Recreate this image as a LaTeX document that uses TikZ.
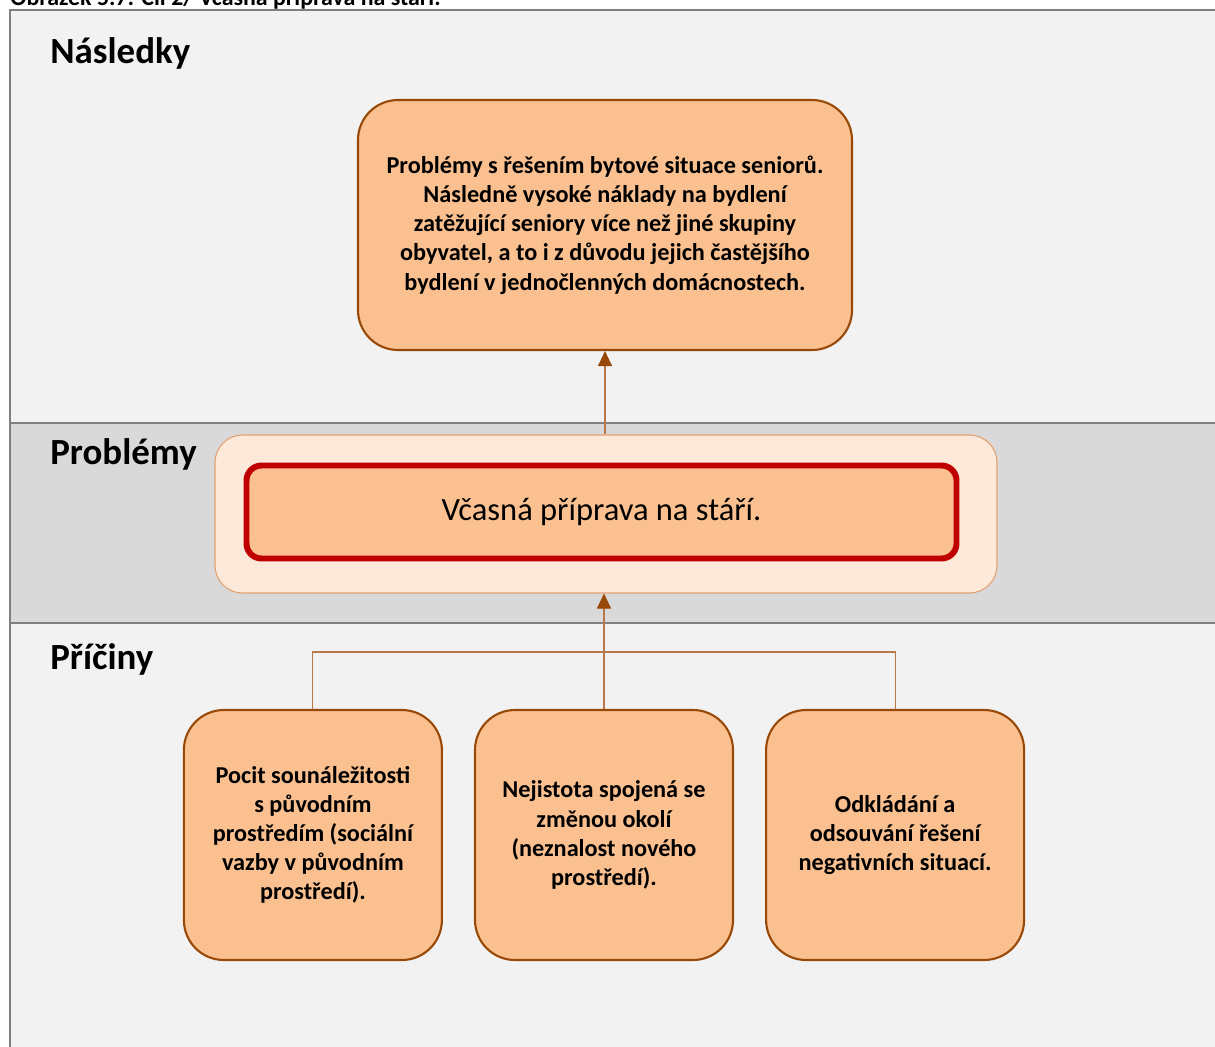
\documentclass[tikz,border=0pt]{standalone}
\usepackage{fontspec}
\setmainfont{Carlito}
\usetikzlibrary{positioning,arrows.meta}
\definecolor{pozadi}{HTML}{F2F2F2}
\definecolor{pas}{HTML}{D9D9D9}
\definecolor{ramecek}{HTML}{808080}
\definecolor{broskev}{HTML}{FAC090}
\definecolor{svetla}{HTML}{FDE9D9}
\definecolor{hneda}{HTML}{984807}
\definecolor{okr}{HTML}{E2A06E}
\definecolor{linka}{HTML}{B8784A}
\definecolor{cervena}{HTML}{C00000}
\tikzset{
	nadpis/.style={anchor=west, inner sep=0pt, font=\bfseries\fontsize{21}{25}\selectfont},
	nasledek/.style={rectangle, rounded corners=0.8cm, fill=broskev, draw=hneda, line width=1.2pt,
		minimum width=9.88cm, minimum height=5cm, align=center,
		font=\bfseries\fontsize{13.8}{16.6}\selectfont},
	obal/.style={rectangle, rounded corners=0.55cm, fill=svetla, draw=okr, line width=0.6pt,
		minimum width=15.64cm, minimum height=3.16cm},
	cil/.style={rectangle, rounded corners=0.3cm, fill=broskev, draw=cervena, line width=3.4pt,
		minimum width=14.2cm, minimum height=1.86cm, font=\fontsize{18.5}{22}\selectfont},
	pricina/.style={rectangle, rounded corners=0.8cm, fill=broskev, draw=hneda, line width=1.2pt,
		minimum width=5.16cm, minimum height=5cm, align=center,
		font=\bfseries\fontsize{13.8}{16.6}\selectfont},
	spoj/.style={draw=linka, line width=0.6pt},
	sipka/.style={draw=linka, line width=0.6pt, -{Triangle[length=0.3cm, width=0.28cm, color=hneda]}}
}

\begin{document}
\begin{tikzpicture}
	\useasboundingbox (0,0) rectangle (24.3,-20.92);
	\clip (0,0) rectangle (24.3,-20.92);

	\fill[pozadi] (0.2,-0.2) rectangle (25,-21.5);
	\fill[pas] (0.2,-8.46) rectangle (25,-12.46);
	\draw[ramecek, line width=1.3pt] (25,-0.2) -- (0.2,-0.2) -- (0.2,-21.5);
	\draw[ramecek, line width=1.3pt] (0.2,-8.46) -- (25,-8.46);
	\draw[ramecek, line width=1.3pt] (0.2,-12.46) -- (25,-12.46);

	\node[anchor=base west, inner sep=0pt, font=\bfseries\fontsize{13.6}{16}\selectfont] (titulek) at (0.2,-0.1)
		{Obrázek 5.7: Cíl 2/ Včasná příprava na stáří.};

	\node[nadpis] (n1) at (1,-1.06) {Následky};
	\node[nadpis] (n2) at (1,-9.08) {Problémy};
	\node[nadpis] (n3) at (1,-13.18) {Příčiny};

	\node[nasledek] (dusledek) at (12.1,-4.5) {Problémy s řešením bytové situace seniorů.\\
		Následně vysoké náklady na bydlení\\
		zatěžující seniory více než jiné skupiny\\
		obyvatel, a to i z důvodu jejich častějšího\\
		bydlení v jednočlenných domácnostech.};

	\node[obal] (problem) at (12.12,-10.28) {};
	\node[cil] (cil) at (12.03,-10.24) {Včasná příprava na stáří.};

	\node[pricina] (p2) at (12.08,-16.7) {Nejistota spojená se\\ změnou okolí\\ (neznalost nového\\ prostředí).};
	\node[pricina, left=0.62cm of p2] (p1) {Pocit sounáležitosti\\ s původním\\ prostředím (sociální\\ vazby v původním\\ prostředí).};
	\node[pricina, right=0.62cm of p2] (p3) {Odkládání a\\ odsouvání řešení\\ negativních situací.};

	\coordinate (uzel) at (12.08,-13.04);
	\draw[spoj] (p1.north) |- (uzel) -| (p3.north);
	\draw[spoj] (p2.north) -- (uzel);
	\draw[sipka] (uzel) -- (problem.south -| uzel);
	\draw[sipka] (problem.north -| dusledek.south) -- (dusledek.south);
\end{tikzpicture}
\end{document}
